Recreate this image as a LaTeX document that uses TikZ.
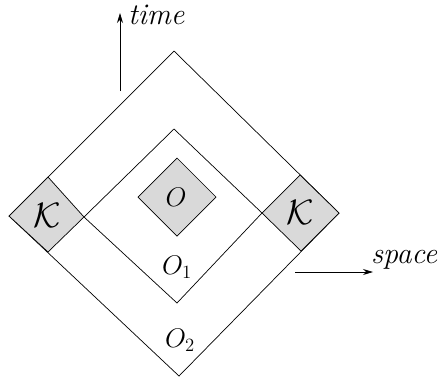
\documentclass[tikz,border=0pt]{standalone}
\usepackage{graphicx}
\usetikzlibrary{arrows.meta}
\newcommand{\bigtxt}[2]{\scalebox{#1}{#2}}
\tikzset{
  region/.style={draw=black, line width=0.7pt, line join=miter},
  grey/.style={region, fill=black!15},
  axis/.style={line width=0.8pt, -{Stealth[length=10pt,width=6pt]}},
  lbl/.style={inner sep=0pt, font=\fontsize{20}{24}\selectfont}
}
\begin{document}
\begin{tikzpicture}[x=1pt,y=-1pt]
\useasboundingbox (0,0) rectangle (438,376);
% outer diamond
\coordinate (oT) at (174,51);
\coordinate (oL) at (9,216);
\coordinate (oR) at (339,213);
\coordinate (oB) at (179,376);
% inner diamond
\coordinate (iT) at (174,129);
\coordinate (iL) at (84,217);
\coordinate (iR) at (262,213);
\coordinate (iB) at (177,303);
% K regions
\coordinate (klt) at (48,177);
\coordinate (klb) at (48,252);
\coordinate (krt) at (300,175);
\coordinate (krb) at (301,251);
% small O
\coordinate (sT) at (177,158);
\coordinate (sL) at (138,197);
\coordinate (sR) at (216,197);
\coordinate (sB) at (177,236);

\draw[region] (oT) -- (oL) -- (oB) -- (oR) -- cycle;
\draw[region] (iT) -- (iL) -- (iB) -- (iR) -- cycle;
\draw[grey] (oL) -- (klt) -- (iL) -- (klb) -- cycle;
\draw[grey] (oR) -- (krt) -- (iR) -- (krb) -- cycle;
\draw[grey] (sT) -- (sL) -- (sB) -- (sR) -- cycle;

\node[lbl] (kl) at (47,215) {\bigtxt{1.7}{$\mathcal{K}$}};
\node[lbl] (kr) at (300,212) {\bigtxt{1.7}{$\mathcal{K}$}};
\node[lbl] (o) at (176,197) {\bigtxt{1.3}{$O$}};
\node[lbl] (o1) at (177,267) {\bigtxt{1.3}{$O_1$}};
\node[lbl] (o2) at (180,340) {\bigtxt{1.3}{$O_2$}};

% axes
\coordinate (ta) at (120,91);
\coordinate (tb) at (120,13);
\draw[axis] (ta) -- (tb);
\node[lbl, anchor=base west] (time) at (128,24) {\bigtxt{1.5}{\itshape time}};
\coordinate (sa) at (295,272);
\coordinate (sb) at (373,272);
\draw[axis] (sa) -- (sb);
\node[lbl, anchor=base west] (space) at (371,263) {\bigtxt{1.5}{\itshape space}};
\end{tikzpicture}
\end{document}
